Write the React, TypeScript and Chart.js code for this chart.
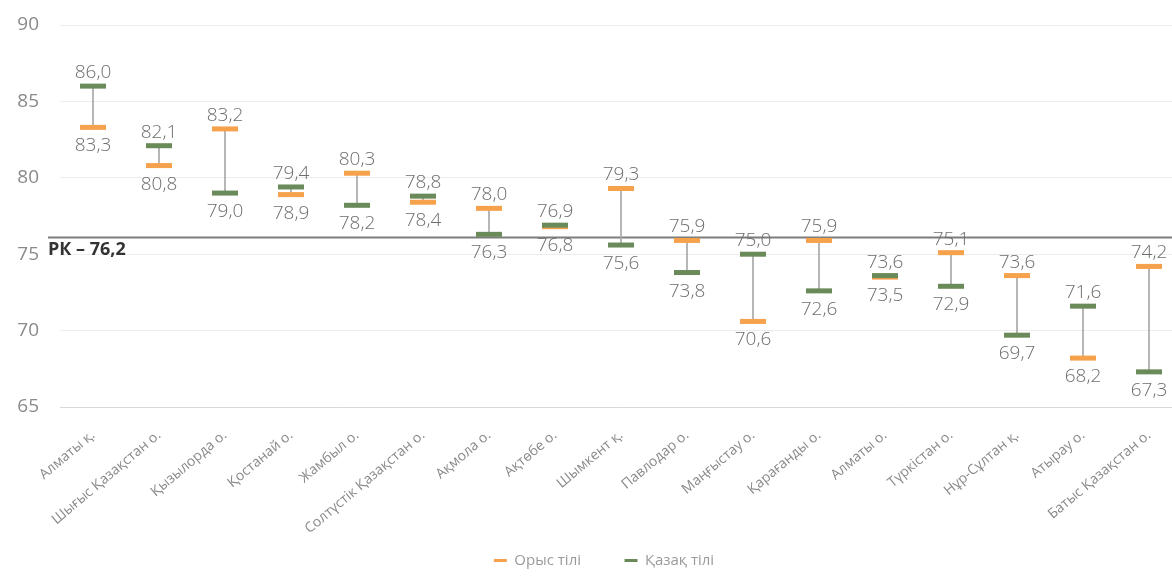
import React, { useEffect, useRef } from 'react';
import { Chart, registerables } from 'chart.js';

Chart.register(...registerables);

const categories = [
  'Алматы қ.',
  'Шығыс Қазақстан о.',
  'Қызылорда о.',
  'Қостанай о.',
  'Жамбыл о.',
  'Солтүстік Қазақстан о.',
  'Ақмола о.',
  'Ақтөбе о.',
  'Шымкент қ.',
  'Павлодар о.',
  'Маңғыстау о.',
  'Қарағанды о.',
  'Алматы о.',
  'Түркістан о.',
  'Нұр-Сұлтан қ.',
  'Атырау о.',
  'Батыс Қазақстан о.',
];

const russian = [83.3, 80.8, 83.2, 78.9, 80.3, 78.4, 78.0, 76.8, 79.3, 75.9, 70.6, 75.9, 73.5, 75.1, 73.6, 68.2, 74.2];
const kazakh = [86.0, 82.1, 79.0, 79.4, 78.2, 78.8, 76.3, 76.9, 75.6, 73.8, 75.0, 72.6, 73.6, 72.9, 69.7, 71.6, 67.3];

const seriesNames = ['Орыс тілі', 'Қазақ тілі'];
const yMin = 65;
const yMax = 90;
const yStep = 5;
const nationalValue = 76.2;
const nationalLabel = 'РК – 76,2';

const ORANGE = '#f6a14c';
const GREEN = '#6a8a5a';
const FONT = '"Open Sans", "DejaVu Sans", sans-serif';
const LEGEND_GAP = '\u2002\u2002\u2002\u2002\u2002';

const fmt = (v: number) => v.toFixed(1).replace('.', ',');

export default function App() {
  const ref = useRef<HTMLCanvasElement>(null);

  useEffect(() => {
    if (!ref.current) return;
    const ranges = categories.map((_, i) => [
      Math.min(russian[i], kazakh[i]),
      Math.max(russian[i], kazakh[i]),
    ]);

    const refLine = {
      id: 'refLine',
      beforeDatasetsDraw(chart: any) {
        const { ctx, chartArea, scales } = chart;
        const py = Math.round(scales.y.getPixelForValue(nationalValue)) + 1.5;
        const x0 = chartArea.left - 12;
        ctx.save();
        ctx.strokeStyle = '#7d7d7d';
        ctx.lineWidth = 2;
        ctx.beginPath();
        ctx.moveTo(x0, py);
        ctx.lineTo(chart.width, py);
        ctx.stroke();
        ctx.fillStyle = '#333333';
        ctx.font = `bold 18px ${FONT}`;
        ctx.textAlign = 'left';
        ctx.textBaseline = 'alphabetic';
        ctx.fillText(nationalLabel, x0, py + 17);
        ctx.restore();
      },
    };

    const valueLabels = {
      id: 'valueLabels',
      afterDatasetsDraw(chart: any) {
        const { ctx, scales } = chart;
        ctx.save();
        ctx.fillStyle = '#6e6e6e';
        ctx.font = `300 19px ${FONT}`;
        ctx.textAlign = 'center';
        ctx.textBaseline = 'alphabetic';
        categories.forEach((_, i) => {
          const px = scales.x.getPixelForValue(i);
          const hi = Math.max(russian[i], kazakh[i]);
          const lo = Math.min(russian[i], kazakh[i]);
          ctx.fillText(fmt(hi), px, scales.y.getPixelForValue(hi) - 8);
          ctx.fillText(fmt(lo), px, scales.y.getPixelForValue(lo) + 24);
        });
        ctx.restore();
      },
    };

    const pointCommon = {
      type: 'line' as const,
      showLine: false,
      pointStyle: 'line',
      pointRadius: 13,
      pointHoverRadius: 13,
      pointBorderWidth: 5,
      pointHoverBorderWidth: 5,
      borderWidth: 3,
    };

    const chart = new Chart(ref.current, {
      type: 'bar',
      data: {
        labels: categories,
        datasets: [
          {
            ...pointCommon,
            label: seriesNames[0],
            data: russian,
            borderColor: ORANGE,
            backgroundColor: ORANGE,
            pointBorderColor: ORANGE,
            pointBackgroundColor: ORANGE,
            order: 2,
          } as any,
          {
            ...pointCommon,
            label: seriesNames[1],
            data: kazakh,
            borderColor: GREEN,
            backgroundColor: GREEN,
            pointBorderColor: GREEN,
            pointBackgroundColor: GREEN,
            order: 1,
          } as any,
          {
            type: 'bar',
            label: 'range',
            data: ranges as any,
            backgroundColor: '#a8a8a8',
            barThickness: 1,
            order: 3,
          },
        ],
      },
      options: {
        responsive: true,
        maintainAspectRatio: false,
        animation: false,
        events: [],
        layout: { padding: { top: 25, bottom: 10, left: 0, right: 0 } },
        scales: {
          x: {
            ticks: {
              autoSkip: false,
              minRotation: 40,
              maxRotation: 40,
              color: '#8a8a8a',
              font: { size: 14, family: FONT },
              padding: 20,
            },
            grid: { display: false, drawTicks: false },
            border: { display: true, color: '#d8d8d8' },
            afterFit: (s: any) => {
              s.height = 140;
              s.paddingLeft = 0;
              s.paddingRight = 0;
            },
          },
          y: {
            min: yMin,
            max: yMax,
            ticks: {
              stepSize: yStep,
              color: '#8a8a8a',
              font: { size: 19, family: FONT },
              padding: 21,
            },
            grid: { color: '#ececec', drawTicks: false },
            border: { display: false },
            afterFit: (s: any) => {
              s.width = 60;
              s.paddingTop = 0;
              s.paddingBottom = 0;
            },
          },
          yr: {
            position: 'right',
            display: true,
            ticks: { display: false },
            grid: { display: false, drawTicks: false },
            border: { display: false },
            afterFit: (s: any) => {
              s.width = 26;
              s.paddingTop = 0;
              s.paddingBottom = 0;
            },
          },
        },
        plugins: {
          tooltip: { enabled: false },
          legend: {
            position: 'bottom',
            labels: {
              usePointStyle: true,
              pointStyleWidth: 13,
              color: '#9a9a9a',
              font: { size: 15, family: FONT },
              padding: 6,
              generateLabels: (c: any) =>
                Chart.defaults.plugins.legend.labels
                  .generateLabels(c)
                  .map((it: any) => ({
                    ...it,
                    text: it.datasetIndex === 0 ? it.text + LEGEND_GAP : it.text,
                    pointStyle: 'line',
                    lineWidth: 3,
                  })),
              filter: (it: any) => it.datasetIndex !== 2,
              sort: (a: any, b: any) => a.datasetIndex - b.datasetIndex,
            },
          },
        },
      } as any,
      plugins: [refLine, valueLabels],
    });

    return () => chart.destroy();
  }, []);

  return (
    <div style={{ position: 'fixed', left: 0, top: 0, width: 1172, height: 588, overflow: 'hidden', background: '#fff' }}>
      <div style={{ position: 'relative', width: 1208, height: 588 }}>
        <canvas ref={ref} />
      </div>
    </div>
  );
}
